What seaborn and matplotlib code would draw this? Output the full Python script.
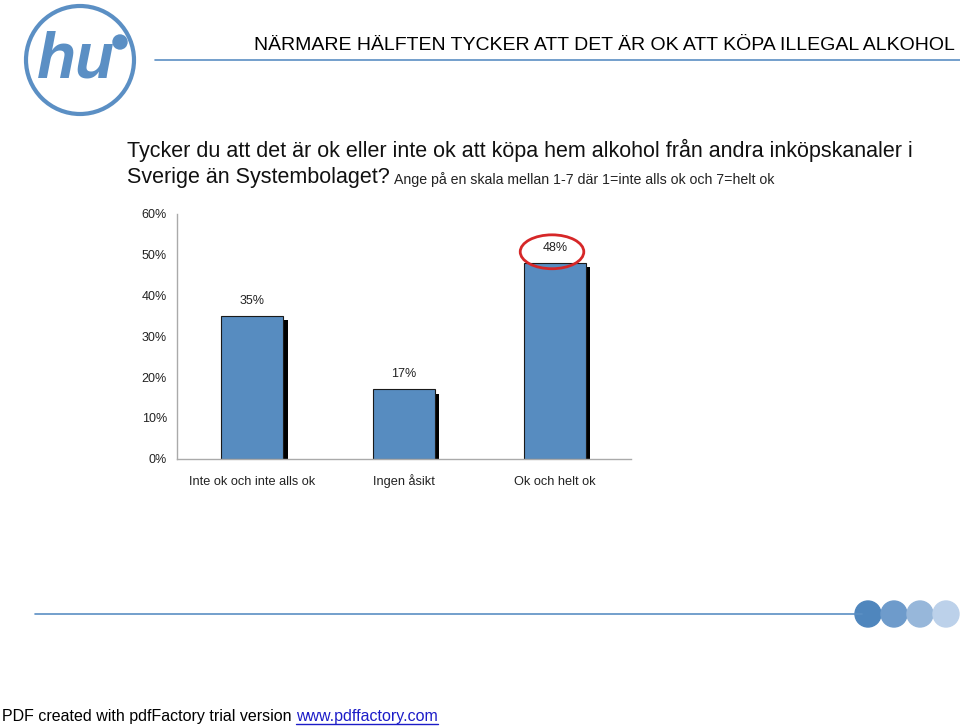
import numpy as np
import pandas as pd
import matplotlib
matplotlib.use("Agg")
import matplotlib.pyplot as plt
import matplotlib.patheffects as pe
from matplotlib.patches import Circle, Ellipse
from matplotlib.lines import Line2D
import seaborn as sns

# data
categories = ["Inte ok och inte alls ok", "Ingen åsikt", "Ok och helt ok"]
shares = [0.35, 0.17, 0.48]
value_labels = ["35%", "17%", "48%"]
y_ticks = [0.0, 0.1, 0.2, 0.3, 0.4, 0.5, 0.6]
y_tick_labels = ["0%", "10%", "20%", "30%", "40%", "50%", "60%"]

title = "NÄRMARE HÄLFTEN TYCKER ATT DET ÄR OK ATT KÖPA ILLEGAL ALKOHOL"
question_1 = "Tycker du att det är ok eller inte ok att köpa hem alkohol från andra inköpskanaler i"
question_2 = "Sverige än Systembolaget?"
question_note = "Ange på en skala mellan 1-7 där 1=inte alls ok och 7=helt ok"
footer = "PDF created with pdfFactory trial version "
footer_link = "www.pdffactory.com"

BAR_BLUE = "#578CC0"
LOGO_BLUE = "#5B8FC4"
W, H = 960, 726

sns.set_style("white")
plt.rcParams["font.family"] = ["Liberation Sans", "DejaVu Sans"]

df = pd.DataFrame({"category": categories, "share": shares})

fig = plt.figure(figsize=(9.6, 7.26), dpi=100)
ax = fig.add_axes([0.184, 0.368, 0.473, 0.3375])

sns.barplot(data=df, x="category", y="share", color=BAR_BLUE, width=0.41,
            edgecolor="#1a1a1a", linewidth=0.8, saturation=1, ax=ax)

# dark drop shadow on the bars
for bar in ax.patches:
    bar.set_path_effects([pe.SimplePatchShadow(offset=(3, -3), shadow_rgbFace="black", alpha=1.0),
                          pe.Normal()])

for i, (v, lab) in enumerate(zip(shares, value_labels)):
    ax.text(i, v + 0.022, lab, ha="center", va="bottom", fontsize=9, color="#222222")

# red ring around the biggest bar label
ax.add_patch(Ellipse((1.98, 0.507), 0.42, 0.083, fill=False, edgecolor="#D62728",
                     linewidth=2, clip_on=False))

ax.set_ylim(0, 0.6)
ax.set_xlim(-0.5, 2.5)
ax.set_yticks(y_ticks)
ax.set_yticklabels(y_tick_labels, fontsize=9, color="#222222")
ax.set_xticks(range(len(categories)))
ax.set_xticklabels(categories, fontsize=9.2, color="#222222")
for lab in ax.get_xticklabels():
    lab.set_va("baseline")
ax.set_xticks([-0.5, 0.5, 1.5, 2.5], minor=True)
ax.tick_params(axis="x", which="major", length=0, pad=19)
ax.tick_params(axis="x", which="minor", length=5, color="#AAAAAA", direction="out")
ax.tick_params(axis="y", length=4, color="#AAAAAA", direction="out", pad=3)
ax.set_xlabel("")
ax.set_ylabel("")
sns.despine(ax=ax)
for s in ["left", "bottom"]:
    ax.spines[s].set_color("#AAAAAA")
    ax.spines[s].set_linewidth(1)

# header
fig.text(955 / W, 1 - 45 / H, title, ha="right", va="center", fontsize=14, color="black")
fig.add_artist(Line2D([155 / W, 1.0], [1 - 60 / H] * 2, color=LOGO_BLUE, linewidth=1.2))

# logo
logo = fig.add_axes([20 / W, 1 - 120 / H, 120 / W, 120 / H])
logo.set_xlim(0, 120)
logo.set_ylim(0, 120)
logo.set_aspect("equal")
logo.axis("off")
logo.add_patch(Circle((60, 60), 54, fill=False, edgecolor=LOGO_BLUE, linewidth=3))
logo.text(56, 60, "hu", ha="center", va="center", fontsize=46, fontweight="bold",
          fontstyle="italic", color=LOGO_BLUE)
logo.add_patch(Circle((100, 78), 7, color=LOGO_BLUE))

# question text
fig.text(127 / W, 1 - 150 / H, question_1, ha="left", va="center", fontsize=15.5, color="#111111")
fig.text(127 / W, 1 - 177 / H, question_2, ha="left", va="center", fontsize=15.5, color="#111111")
fig.text(394 / W, 1 - 180 / H, question_note, ha="left", va="center", fontsize=10.2, color="#222222")

# bottom decoration
fig.add_artist(Line2D([35 / W, 862 / W], [1 - 614 / H] * 2, color=LOGO_BLUE, linewidth=1.2))
for cx, col in zip([868, 894, 920, 946], ["#4F86BD", "#6E9BCB", "#97B7DA", "#BCD1EA"]):
    fig.add_artist(Ellipse((cx / W, 1 - 614 / H), 26 / W, 26 / H, color=col,
                           transform=fig.transFigure))

# footer
t = fig.text(0.002, 1 - 716 / H, footer, ha="left", va="center", fontsize=11.5, color="black")
fig.canvas.draw()
bb = t.get_window_extent()
lk = fig.text(bb.x1 / W, 1 - 716 / H, footer_link, ha="left", va="center", fontsize=11.5,
              color="#1C1CC8")
fig.canvas.draw()
lb = lk.get_window_extent()
fig.add_artist(Line2D([lb.x0 / W, lb.x1 / W], [1 - 724 / H] * 2, color="#1C1CC8", linewidth=1))

fig.savefig("out.png", dpi=100)
